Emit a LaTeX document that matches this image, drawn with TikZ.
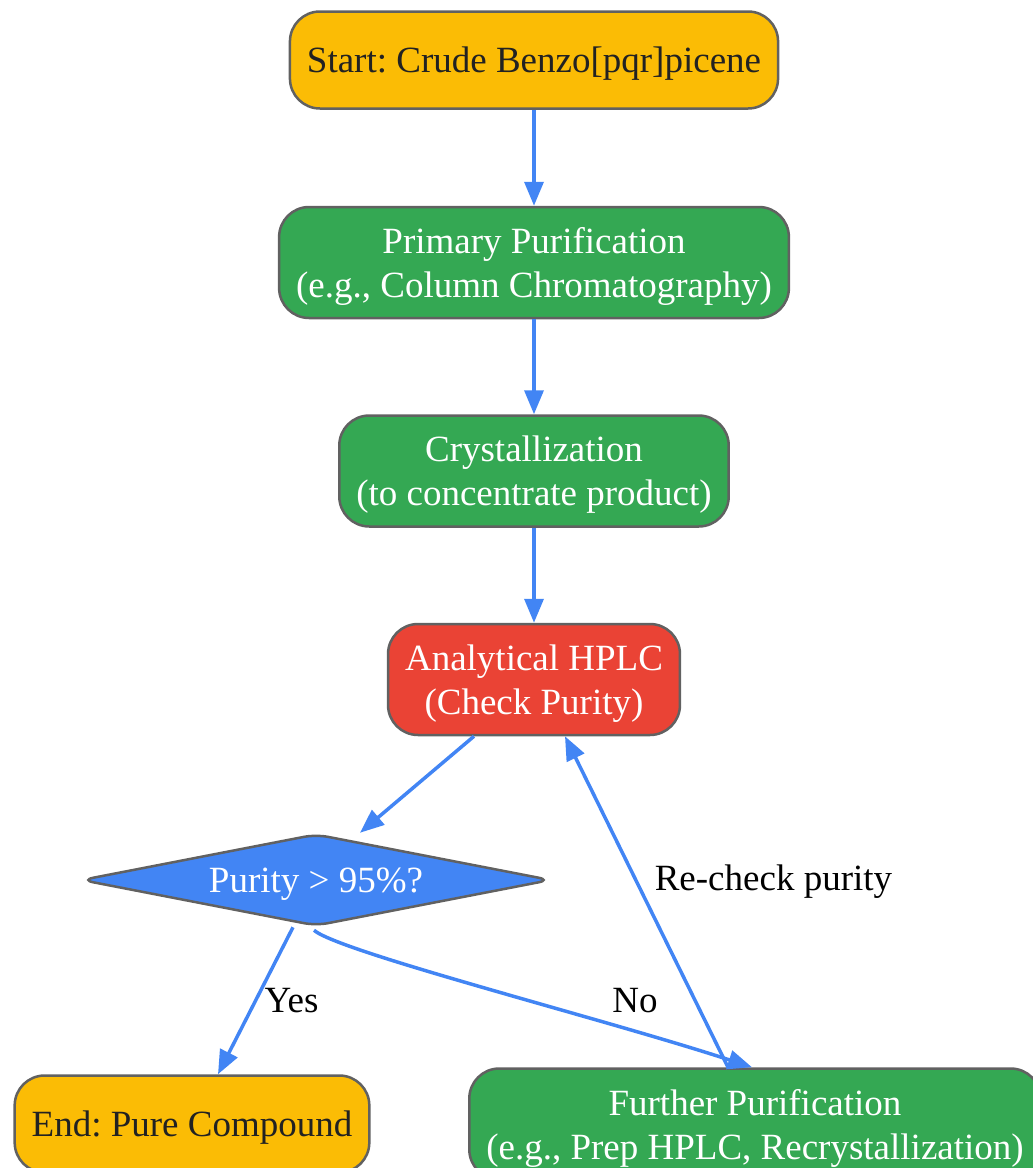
\documentclass[tikz,border=0pt]{standalone}
\usepackage{fontspec}
\setmainfont{Liberation Serif}
\usetikzlibrary{positioning,shapes.geometric,arrows.meta}
\definecolor{gyellow}{HTML}{FBBC05}
\definecolor{ggreen}{HTML}{34A853}
\definecolor{gred}{HTML}{EA4335}
\definecolor{gblue}{HTML}{4285F4}
\definecolor{gborder}{HTML}{616161}
\definecolor{gdark}{HTML}{222222}
\frenchspacing

\begin{document}
\begin{tikzpicture}[x=1pt,y=-1pt,
		every node/.style={font=\fontsize{37}{44}\selectfont},
		box/.style={draw=gborder,line width=2.5pt,rounded corners=30pt,align=center,inner xsep=17pt,inner ysep=0pt,text depth=0pt},
		onebox/.style={box,minimum height=97pt},
		twobox/.style={box,minimum height=111pt},
		decide/.style={diamond,draw=gborder,line width=2.5pt,fill=gblue,text=white,aspect=5.1,text depth=0pt,
			minimum width=470pt,minimum height=92pt,inner sep=0pt,rounded corners=12pt},
		flow/.style={draw=gblue,line width=3.5pt,-{Triangle[length=24pt,width=19pt]}},
		lbl/.style={text=black}]
		\useasboundingbox (0,0) rectangle (1033,1168);
		\node[onebox,fill=gyellow,text=gdark] (start) at (534,60) {Start: Crude Benzo[pqr]picene};
		\node[twobox,fill=ggreen,text=white,below=96pt of start] (prim) {Primary Purification\\(e.g., Column Chromatography)};
		\node[twobox,fill=ggreen,text=white,below=95pt of prim] (cryst) {Crystallization\\(to concentrate product)};
		\node[twobox,fill=gred,text=white,below=95pt of cryst] (hplc) {Analytical HPLC\\(Check Purity)};
		\node[decide] (check) at (316,880) {Purity > 95\%?};
		\node[onebox,fill=gyellow,text=gdark] (done) at (192,1124) {End: Pure Compound};
		\node[twobox,fill=ggreen,text=white] (more) at (755,1124) {Further Purification\\(e.g., Prep HPLC, Recrystallization)};

		\draw[flow] (start) -- (prim);
		\draw[flow] (prim) -- (cryst);
		\draw[flow] (cryst) -- (hplc);
		\draw[flow] ([xshift=-60pt]hplc.south) -- ([xshift=44pt]check.north);
		\draw[flow] ([xshift=-23pt]check.south) -- node[lbl,right,xshift=4pt] {Yes} ([xshift=26pt]done.north);
		\draw[flow] ([xshift=-2pt,yshift=-3pt]check.south)
			.. controls ([xshift=24pt,yshift=-25pt]check.south) and ([xshift=-153pt,yshift=49pt]more.north)
			.. node[lbl,pos=0.77,above,yshift=14pt] {No} ([xshift=-3pt]more.north);
		\draw[flow] ([xshift=-27pt]more.north) -- node[lbl,pos=0.56,right,xshift=13pt] {Re-check purity} ([xshift=31pt]hplc.south);
	\end{tikzpicture}
\end{document}
